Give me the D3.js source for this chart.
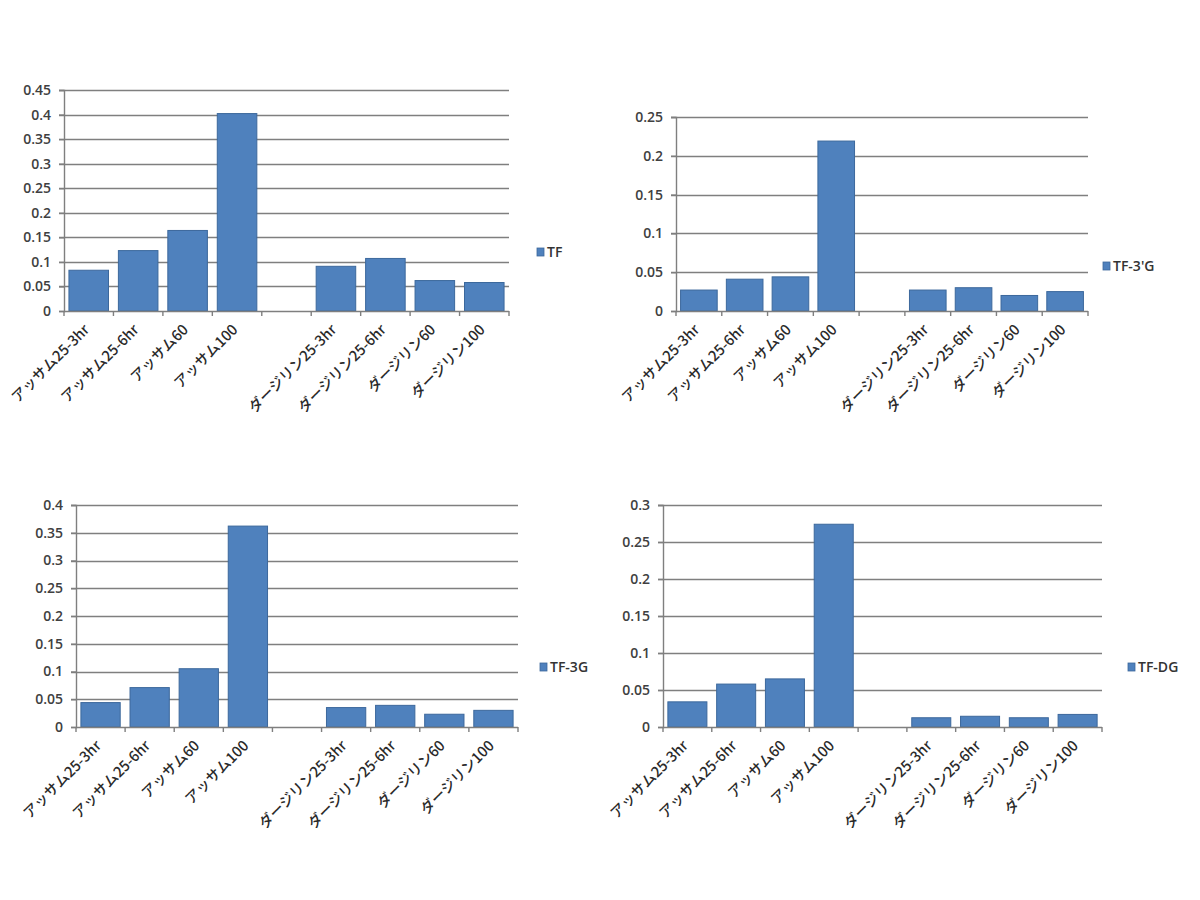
<!DOCTYPE html>
<html>
<head>
<meta charset="utf-8">
<script src="https://cdn.jsdelivr.net/npm/d3@7"></script>
<style>
  body { margin: 0; background: #fff; }
  svg { display: block; }
</style>
</head>
<body>
<svg id="chart" width="1200" height="900"></svg>
<script>
// categories (blank slot between the two tea groups)
let categories = ['アッサム25-3hr', 'アッサム25-6hr', 'アッサム60', 'アッサム100', '',
  'ダージリン25-3hr', 'ダージリン25-6hr', 'ダージリン60', 'ダージリン100'];

let tfValues = [0.083, 0.123, 0.164, 0.402, null, 0.091, 0.107, 0.062, 0.058];
let tf3dashGValues = [0.027, 0.041, 0.044, 0.219, null, 0.027, 0.030, 0.020, 0.025];
let tf3gValues = [0.044, 0.071, 0.105, 0.362, null, 0.035, 0.039, 0.023, 0.030];
let tfdgValues = [0.034, 0.058, 0.065, 0.274, null, 0.0125, 0.0145, 0.0125, 0.017];

let seriesNames = ['TF', "TF-3'G", 'TF-3G', 'TF-DG'];
let yMaxes = [0.45, 0.25, 0.4, 0.3];
let yStep = 0.05;

const svg = d3.select('#chart');

const panels = [
  { left: 64, right: 509, top: 90, bottom: 311, legendX: 537, legendY: 252, values: tfValues },
  { left: 676, right: 1088, top: 117, bottom: 311, legendX: 1103, legendY: 266, values: tf3dashGValues },
  { left: 76, right: 518, top: 505, bottom: 727, legendX: 540, legendY: 667, values: tf3gValues },
  { left: 663, right: 1102, top: 505, bottom: 727, legendX: 1128, legendY: 667, values: tfdgValues },
];

panels.forEach((p, k) => {
  const g = svg.append('g');

  const x = d3.scaleBand()
    .domain(d3.range(categories.length))
    .range([p.left, p.right])
    .paddingInner(0.2)
    .paddingOuter(0.1);

  const y = d3.scaleLinear()
    .domain([0, yMaxes[k]])
    .range([p.bottom, p.top]);

  const ticks = d3.range(0, yMaxes[k] + yStep / 2, yStep);

  // gridlines
  g.selectAll('line.grid')
    .data(ticks.filter((d) => d > 0))
    .join('line')
    .attr('x1', p.left - 5)
    .attr('x2', p.right)
    .attr('y1', (d) => Math.round(y(d)) + 0.5)
    .attr('y2', (d) => Math.round(y(d)) + 0.5)
    .style('stroke', '#7f7f7f')
    .style('stroke-width', 1.4);

  // y axis
  const yAxis = d3.axisLeft(y)
    .tickValues(ticks)
    .tickSize(5)
    .tickPadding(8)
    .tickFormat((d) => +d.toFixed(2) + '');

  g.append('g')
    .attr('transform', `translate(${p.left},0)`)
    .call(yAxis)
    .call((a) => a.select('.domain').style('stroke', '#7f7f7f').style('stroke-width', 1.4))
    .call((a) => a.selectAll('.tick line').style('stroke', '#7f7f7f').style('stroke-width', 1.4))
    .call((a) => a.selectAll('.tick text')
      .style('font-family', '"Open Sans", sans-serif')
      .style('font-size', '14px')
      .style('font-weight', '600')
      .style('fill', '#404040'));

  // bars
  g.selectAll('rect.bar')
    .data(p.values.map((v, i) => ({ v, i })).filter((d) => d.v != null))
    .join('rect')
    .attr('x', (d) => x(d.i))
    .attr('y', (d) => y(d.v))
    .attr('width', x.bandwidth())
    .attr('height', (d) => p.bottom - y(d.v))
    .style('fill', '#4f81bd')
    .style('stroke', '#3c689c')
    .style('stroke-width', 1);

  // x axis line + boundary ticks
  g.append('line')
    .attr('x1', p.left)
    .attr('x2', p.right)
    .attr('y1', p.bottom + 0.5)
    .attr('y2', p.bottom + 0.5)
    .style('stroke', '#7f7f7f')
    .style('stroke-width', 1.4);

  const step = x.step();
  g.selectAll('line.xtick')
    .data(d3.range(categories.length + 1))
    .join('line')
    .attr('x1', (d) => p.left + d * step)
    .attr('x2', (d) => p.left + d * step)
    .attr('y1', p.bottom)
    .attr('y2', p.bottom + 5)
    .style('stroke', '#7f7f7f')
    .style('stroke-width', 1.4);

  // category labels
  g.selectAll('text.cat')
    .data(categories)
    .join('text')
    .attr('transform', (d, i) =>
      `translate(${x(i) + x.bandwidth() / 2 - 2},${p.bottom + 16}) rotate(-45)`)
    .attr('text-anchor', 'end')
    .attr('dy', '0.35em')
    .text((d) => d)
    .style('font-family', '"Noto Sans CJK JP", sans-serif')
    .style('font-size', '14.5px')
    .style('font-weight', '500')
    .style('fill', '#2a2a2a');

  // legend
  g.append('rect')
    .attr('x', p.legendX)
    .attr('y', p.legendY - 4)
    .attr('width', 7)
    .attr('height', 8)
    .style('fill', '#4f81bd')
    .style('stroke', '#3c689c')
    .style('stroke-width', 0.8);

  g.append('text')
    .attr('x', p.legendX + 10)
    .attr('y', p.legendY)
    .attr('dy', '0.35em')
    .text(seriesNames[k])
    .style('font-family', '"Open Sans", sans-serif')
    .style('font-size', '14px')
    .style('font-weight', '600')
    .style('fill', '#333');
});
</script>
</body>
</html>
